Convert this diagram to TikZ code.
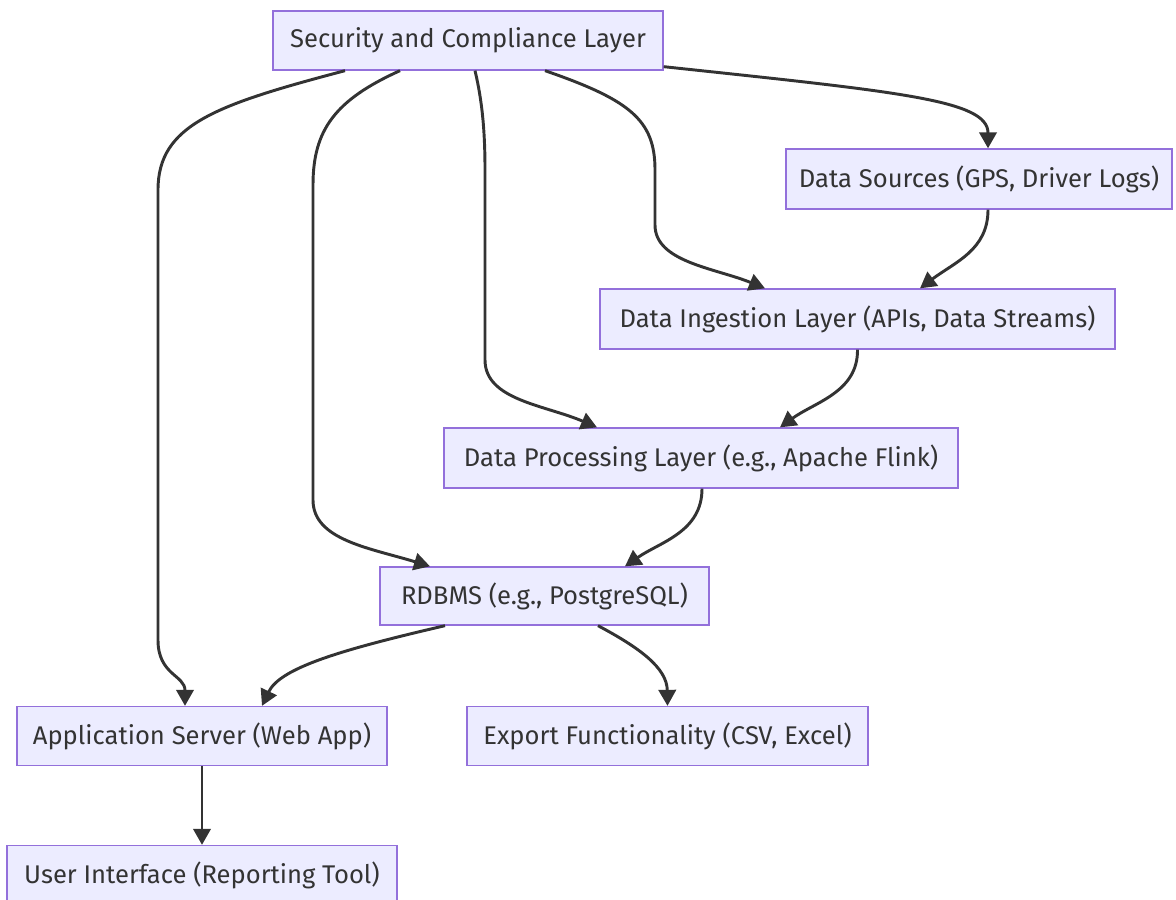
\documentclass[tikz,border=0pt]{standalone}
\usepackage{fontspec}
\setmainfont{Fira Sans}
\usetikzlibrary{arrows.meta,calc}
\definecolor{boxfill}{HTML}{ECECFF}
\definecolor{boxline}{HTML}{9370DB}
\definecolor{ink}{HTML}{333333}
\tikzset{
  box/.style={draw=boxline, fill=boxfill, line width=1pt, inner sep=0pt,
    text=ink, font=\fontsize{19.2}{22}\selectfont},
  link/.style={draw=ink, line width=2.2pt,
    -{Triangle[length=12pt,width=13pt]}},
}
\begin{document}
\begin{tikzpicture}[x=0.75pt,y=-0.75pt]
\useasboundingbox (0,0) rectangle (1176,899);
% layers
\node[box, minimum width=292.5pt, minimum height=44.25pt] (sec) at (468,40.5) {Security and Compliance Layer};
\node[box, minimum width=289.5pt, minimum height=45pt] (src) at (979,179) {Data Sources (GPS, Driver Logs)};
\node[box, minimum width=386.25pt, minimum height=45pt] (ing) at (857.5,319) {Data Ingestion Layer (APIs, Data Streams)};
\node[box, minimum width=385.5pt, minimum height=45pt] (proc) at (701,458) {Data Processing Layer (e.g., Apache Flink)};
\node[box, minimum width=246.75pt, minimum height=43.5pt] (db) at (544.5,596) {RDBMS (e.g., PostgreSQL)};
\node[box, minimum width=277.5pt, minimum height=44.25pt] (app) at (202,736) {Application Server (Web App)};
\node[box, minimum width=300.75pt, minimum height=44.25pt] (exp) at (667.5,736) {Export Functionality (CSV, Excel)};
\node[box, minimum width=292.5pt, minimum height=44.25pt] (ui) at (202,875) {User Interface (Reporting Tool)};
% connectors from the security layer
\draw[link] ($(sec.south)+(-123,0)$) .. controls (215,105) and (158,125) .. (158,190)
  -- (158,640) .. controls (158,675) and (185,675) .. ($(app.north)+(-17,0)$);
\draw[link] ($(sec.south)+(-68,0)$) .. controls (335,100) and (313,130) .. (313,185)
  -- (313,500) .. controls (313,540) and (370,548) .. ($(db.north)+(-114.5,0)$);
\draw[link] ($(sec.south)+(7,0)$) .. controls (482,100) and (485,130) .. (485,170)
  -- (485,360) .. controls (485,400) and (545,405) .. ($(proc.north)+(-104,0)$);
\draw[link] ($(sec.south)+(77,0)$) .. controls (630,100) and (655,120) .. (655,170)
  -- (655,225) .. controls (655,262) and (715,268) .. ($(ing.north)+(-92.5,0)$);
\draw[link] ($(sec.south east)+(0,-4)$) .. controls (900,92) and (988,100) .. ($(src.north)+(9,0)$);
% main data flow
\draw[link] ($(src.south)+(9,0)$) .. controls (988,250) and (955,262) .. ($(ing.north)+(62.5,0)$);
\draw[link] (ing.south) .. controls (858,392) and (815,402) .. ($(proc.north)+(79,0)$);
\draw[link] ($(proc.south)+(1,0)$) .. controls (702,532) and (660,542) .. ($(db.north)+(80.5,0)$);
\draw[link] ($(db.south)+(-99.5,0)$) .. controls (340,650) and (280,668) .. ($(app.north)+(60,0)$);
\draw[link] ($(db.south)+(53.5,0)$) .. controls (640,648) and (667,668) .. (exp.north);
\draw[link] (app.south) -- (ui.north);
\end{tikzpicture}
\end{document}
